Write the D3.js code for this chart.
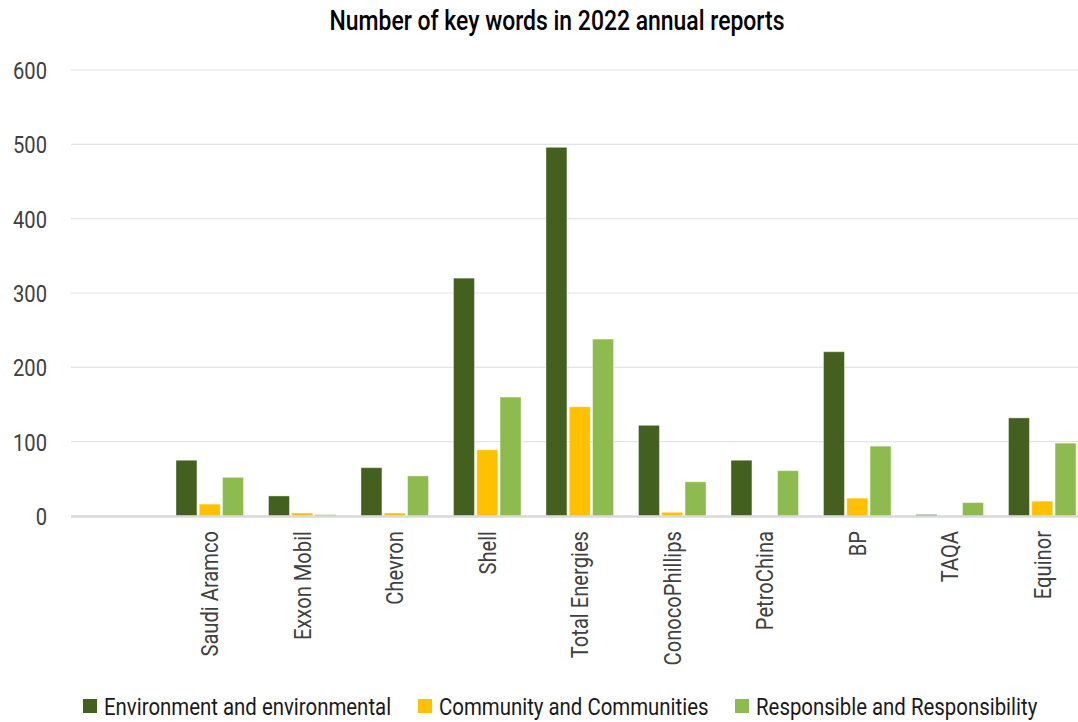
<!DOCTYPE html>
<html><head><meta charset="utf-8">
<script src="https://cdn.jsdelivr.net/npm/d3@7"></script>
<style>body{margin:0;background:#fff}svg{display:block}text{font-family:Roboto,"Liberation Sans Narrow",sans-serif}</style>
</head><body>
<script>
const categories = ["", "Saudi Aramco", "Exxon Mobil", "Chevron", "Shell", "Total Energies", "ConocoPhillips", "PetroChina", "BP", "TAQA", "Equinor"];
const seriesNames = ["Environment and environmental", "Community and Communities", "Responsible and Responsibility"];
const environment = [null, 75, 27, 65, 320, 496, 122, 75, 221, 2, 132];
const community   = [null, 16, 4, 4, 89, 147, 5, 0, 24, 0, 20];
const responsible = [null, 52, 2, 54, 160, 238, 46, 61, 94, 18, 98];
const yTicks = [0, 100, 200, 300, 400, 500, 600];
const colors = ["#44601F", "#FFC000", "#8DBB4F"];

const W = 1078, H = 722;
const SX = 0.84; // condensed look
const svg = d3.select("body").append("svg").attr("width", W).attr("height", H);

const x = d3.scaleBand().domain(categories.map((c,i)=>i)).range([71, 1088.5]).paddingInner(0.27).paddingOuter(0.135);
const xs = d3.scaleBand().domain([0,1,2]).range([0, x.bandwidth()]).paddingInner(0.1);
const y = d3.scaleLinear().domain([0, 600]).range([516, 70]);

// grid
const yAxis = d3.axisLeft(y).tickValues(yTicks).tickSize(0).tickPadding(0);
const gy = svg.append("g").attr("transform", "translate(47,0)").call(yAxis);
gy.select(".domain").remove();
gy.selectAll("text").attr("font-size", 24).attr("fill", "#404040").attr("dy", "0.35em").attr("x", 0)
  .attr("transform", function(d){ return `translate(0,${y(d)}) scale(${SX},1) translate(0,${-y(d)})`; });
svg.append("g").selectAll("line").data(yTicks.filter(d=>d>0)).join("line")
  .attr("x1", 71).attr("x2", W).attr("y1", d=>y(d)).attr("y2", d=>y(d))
  .attr("stroke", "#e4e4e4").attr("stroke-width", 1.2);

// bars
const series = [environment, community, responsible];
const g = svg.append("g");
series.forEach((vals, s) => {
  g.append("g").selectAll("rect").data(vals.map((v,i)=>({v,i})).filter(d=>d.v!==null && d.v>0)).join("rect")
    .attr("x", d => x(d.i) + xs(s))
    .attr("width", xs.bandwidth())
    .attr("y", d => y(d.v))
    .attr("height", d => y(0) - y(d.v))
    .attr("fill", colors[s])
    .attr("stroke", "rgba(255,255,255,0.4)").attr("stroke-width", 1);
});

// baseline
svg.append("line").attr("x1", 71).attr("x2", W).attr("y1", y(0)+0.5).attr("y2", y(0)+0.5)
  .attr("stroke", "#d9d9d9").attr("stroke-width", 2.5);

// x labels
const xAxis = d3.axisBottom(x).tickSize(0).tickFormat(i => categories[i]);
const gx = svg.append("g").attr("transform", `translate(0,${y(0)})`).call(xAxis);
gx.select(".domain").remove();
gx.selectAll("text").attr("font-size", 24).attr("fill", "#404040")
  .attr("text-anchor", "end").attr("dy", "0.35em").attr("y", 0).attr("x", 0)
  .attr("transform", `translate(0,15) rotate(-90) scale(${SX},1)`);

// title
svg.append("text").attr("x", 557).attr("y", 30).attr("text-anchor", "middle")
  .attr("font-size", 27).attr("font-weight", 500).attr("fill", "#000")
  .attr("transform", `translate(557,0) scale(0.85,1) translate(-557,0)`)
  .text("Number of key words in 2022 annual reports");

// legend
const legendX = [83, 418, 735];
const lg = svg.append("g");
seriesNames.forEach((n, s) => {
  lg.append("rect").attr("x", legendX[s]).attr("y", 699).attr("width", 14).attr("height", 14).attr("fill", colors[s]);
  const tx = legendX[s] + 21;
  lg.append("text").attr("x", tx).attr("y", 715).attr("font-size", 24).attr("fill", "#1a1a1a")
    .attr("transform", `translate(${tx},0) scale(0.85,1) translate(${-tx},0)`)
    .text(n);
});
</script>
</body></html>
